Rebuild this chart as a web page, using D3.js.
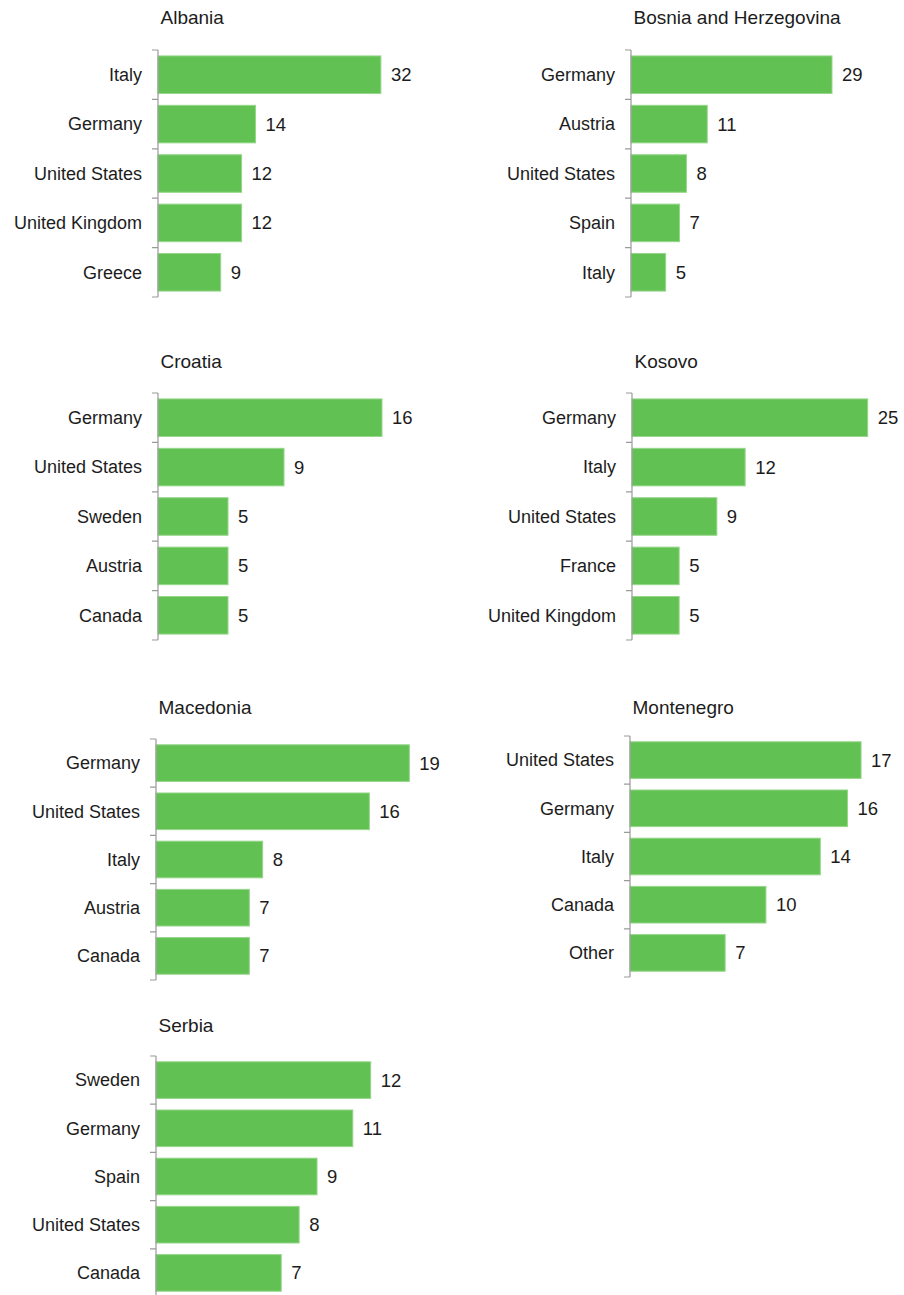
<!DOCTYPE html>
<html>
<head>
<meta charset="utf-8">
<script src="https://cdn.jsdelivr.net/npm/d3@7/dist/d3.min.js"></script>
<style>
  html, body { margin: 0; padding: 0; background: #fff; }
  svg { display: block; font-family: "Liberation Sans", Arial, Helvetica, sans-serif; }
</style>
</head>
<body>
<svg id="chart" width="904" height="1295"></svg>
<script>
// Top five destination countries of emigrants, share in percent
const countries = ["Albania", "Bosnia and Herzegovina", "Croatia", "Kosovo", "Macedonia", "Montenegro", "Serbia"];

const albaniaDest = ["Italy", "Germany", "United States", "United Kingdom", "Greece"];
const albaniaShare = [32, 14, 12, 12, 9];

const bosniaDest = ["Germany", "Austria", "United States", "Spain", "Italy"];
const bosniaShare = [29, 11, 8, 7, 5];

const croatiaDest = ["Germany", "United States", "Sweden", "Austria", "Canada"];
const croatiaShare = [16, 9, 5, 5, 5];

const kosovoDest = ["Germany", "Italy", "United States", "France", "United Kingdom"];
const kosovoShare = [25, 12, 9, 5, 5];

const macedoniaDest = ["Germany", "United States", "Italy", "Austria", "Canada"];
const macedoniaShare = [19, 16, 8, 7, 7];

const montenegroDest = ["United States", "Germany", "Italy", "Canada", "Other"];
const montenegroShare = [17, 16, 14, 10, 7];

const serbiaDest = ["Sweden", "Germany", "Spain", "United States", "Canada"];
const serbiaShare = [12, 11, 9, 8, 7];

// upper end of each panel's value axis
const domainMax = [40.2, 40.4, 20, 29.7, 21, 20.6, 15.65];

const destinations = [albaniaDest, bosniaDest, croatiaDest, kosovoDest, macedoniaDest, montenegroDest, serbiaDest];
const shares = [albaniaShare, bosniaShare, croatiaShare, kosovoShare, macedoniaShare, montenegroShare, serbiaShare];

// panel placement: axis x, axis top, axis height, title centre
const layout = [
  { x: 158, top: 50,   h: 247, titleY: 17 },
  { x: 631, top: 50,   h: 247, titleY: 17 },
  { x: 158, top: 393,  h: 247, titleY: 361 },
  { x: 632, top: 393,  h: 247, titleY: 361 },
  { x: 156, top: 739,  h: 241, titleY: 707 },
  { x: 630, top: 736,  h: 241, titleY: 707 },
  { x: 156, top: 1056, h: 241, titleY: 1025 }
];

const barWidth = 280;
const barFill = "#62c153";
const barStroke = "#96d68a";
const axisColor = "#9a9a9a";
const textColor = "#1c1c1c";

const svg = d3.select("#chart");

countries.forEach((name, i) => {
  const L = layout[i];
  const cats = destinations[i];
  const vals = shares[i];
  const rows = cats.map((c, j) => ({ c, v: vals[j] }));

  const y = d3.scaleBand()
    .domain(cats)
    .range([L.top, L.top + L.h])
    .paddingInner(0.24)
    .paddingOuter(0.12);

  const x = d3.scaleLinear()
    .domain([0, domainMax[i]])
    .range([L.x, L.x + barWidth]);

  const g = svg.append("g");

  // panel title
  g.append("text")
    .attr("x", L.x + 2.5)
    .attr("y", L.titleY)
    .attr("dy", "0.35em")
    .attr("font-size", 19)
    .attr("fill", textColor)
    .text(name);

  // bars
  g.selectAll("rect.bar")
    .data(rows)
    .join("rect")
    .attr("class", "bar")
    .attr("x", x(0))
    .attr("y", d => y(d.c))
    .attr("width", d => x(d.v) - x(0))
    .attr("height", y.bandwidth())
    .attr("fill", barFill)
    .attr("stroke", barStroke)
    .attr("stroke-width", 1);

  // axis line with ticks on the band boundaries
  const step = y.step();
  const bounds = d3.range(cats.length + 1).map(k => L.top + k * step);
  const axisPath = d3.path();
  axisPath.moveTo(L.x, L.top);
  axisPath.lineTo(L.x, L.top + L.h);
  bounds.forEach(b => {
    axisPath.moveTo(L.x - 6, b);
    axisPath.lineTo(L.x, b);
  });
  g.append("path")
    .attr("d", axisPath.toString())
    .attr("fill", "none")
    .attr("stroke", axisColor)
    .attr("stroke-width", 1.2);

  // category labels
  g.selectAll("text.cat")
    .data(rows)
    .join("text")
    .attr("class", "cat")
    .attr("x", L.x - 16)
    .attr("y", d => y(d.c) + y.bandwidth() / 2)
    .attr("dy", "0.35em")
    .attr("text-anchor", "end")
    .attr("font-size", 18)
    .attr("fill", textColor)
    .text(d => d.c);

  // value labels
  g.selectAll("text.val")
    .data(rows)
    .join("text")
    .attr("class", "val")
    .attr("x", d => x(d.v) + 10)
    .attr("y", d => y(d.c) + y.bandwidth() / 2)
    .attr("dy", "0.35em")
    .attr("font-size", 18.5)
    .attr("fill", textColor)
    .text(d => d.v);
});
</script>
</body>
</html>
